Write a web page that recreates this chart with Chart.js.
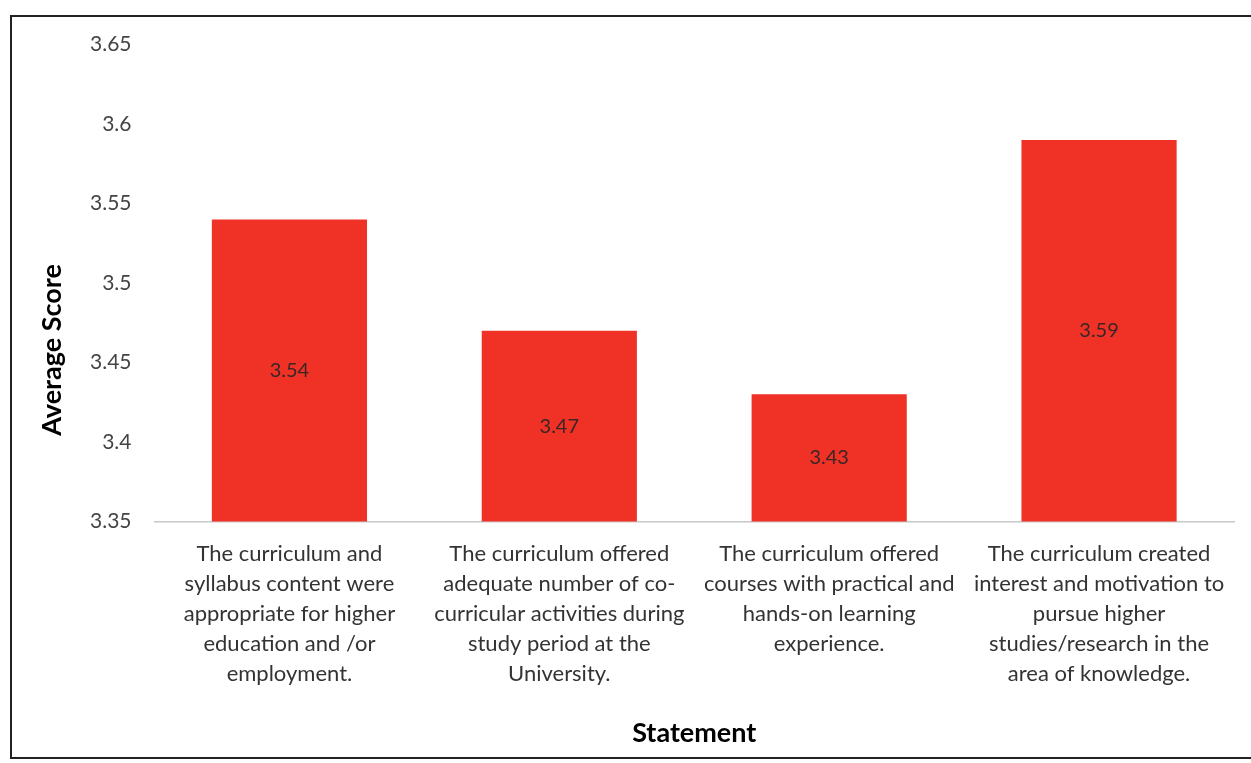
<!DOCTYPE html>
<html>
<head>
<meta charset="utf-8">
<script src="https://cdn.jsdelivr.net/npm/chart.js@4"></script>
<style>
  body { margin: 0; background: #fff; }
  #frame {
    position: absolute; left: 10px; top: 15px;
    width: 1250px; height: 744px;
    border: 2px solid #222; box-sizing: border-box;
  }
  #scoreChart { display: block; }
</style>
</head>
<body>
<div id="frame"><canvas id="scoreChart" width="1246" height="740"></canvas></div>
<script>
//----------------------------------------------BAR GRAPH---------------------------------------------------
const statements = [
  ["The curriculum and", "syllabus content were", "appropriate for higher", "education and /or", "employment."],
  ["The curriculum offered", "adequate number of co-", "curricular activities during", "study period at the", "University."],
  ["The curriculum offered", "courses with practical and", "hands-on learning", "experience."],
  ["The curriculum created", "interest and motivation to", "pursue higher", "studies/research in the", "area of knowledge."],
];
const averageScores = [3.54, 3.47, 3.43, 3.59];
const yTicks = [3.35, 3.4, 3.45, 3.5, 3.55, 3.6, 3.65];

const fontFamily = "Lato, 'Open Sans', sans-serif";

// giá trị ở giữa cột + tiêu đề trục tung
const barValueLabels = {
  id: "barValueLabels",
  afterDraw(chart) {
    const ctx = chart.ctx;
    const yScale = chart.scales.y;
    const bottom = yScale.getPixelForValue(yTicks[0]);
    const meta = chart.getDatasetMeta(0);
    ctx.save();
    ctx.font = "20px " + fontFamily;
    ctx.fillStyle = "#3a2626";
    ctx.textAlign = "center";
    ctx.textBaseline = "middle";
    meta.data.forEach((bar, i) => {
      const top = yScale.getPixelForValue(averageScores[i]);
      ctx.fillText(averageScores[i].toFixed(2), bar.x, (top + bottom) / 2);
    });

    // tiêu đề trục tung
    ctx.translate(40, chart.height * 0.45);
    ctx.rotate(-Math.PI / 2);
    ctx.font = "bold 27px " + fontFamily;
    ctx.fillStyle = "#000";
    ctx.fillText("Average Score", 0, 0);
    ctx.restore();
  },
};

const scoreCTX = document.getElementById("scoreChart");

const configBar = {
  type: "bar",
  data: {
    labels: statements,
    datasets: [
      {
        data: averageScores,
        backgroundColor: "rgb(240, 50, 38)",
        categoryPercentage: 1,
        barPercentage: 0.575,
      },
    ],
  },
  options: {
    responsive: false,
    animation: false,
    layout: { padding: { top: 10, right: 24, left: 63, bottom: 4 } },
    plugins: {
      legend: { display: false },
      tooltip: { enabled: false },
    },
    scales: {
      y: {
        min: yTicks[0],
        max: yTicks[yTicks.length - 1],
        afterBuildTicks: (axis) => {
          axis.ticks = yTicks.map((v) => ({ value: v }));
        },
        grid: { display: false },
        border: { display: false },
        ticks: {
          color: "#444",
          font: { size: 21, family: fontFamily },
          padding: 15,
          callback: (v) => String(+v.toFixed(2)),
        },
      },
      x: {
        grid: { display: false },
        border: { display: true, color: "#c8c8c8", width: 1.5 },
        ticks: {
          color: "#333",
          maxRotation: 0,
          autoSkip: false,
          padding: 9,
          font: { size: 22, family: fontFamily, lineHeight: 1.364 },
        },
        title: {
          display: true,
          text: "Statement",
          color: "#000",
          font: { size: 27, weight: "bold", family: fontFamily },
          padding: { top: 19 },
        },
      },
    },
  },
  plugins: [barValueLabels],
};

const scoreChart = new Chart(scoreCTX, configBar);
</script>
</body>
</html>
